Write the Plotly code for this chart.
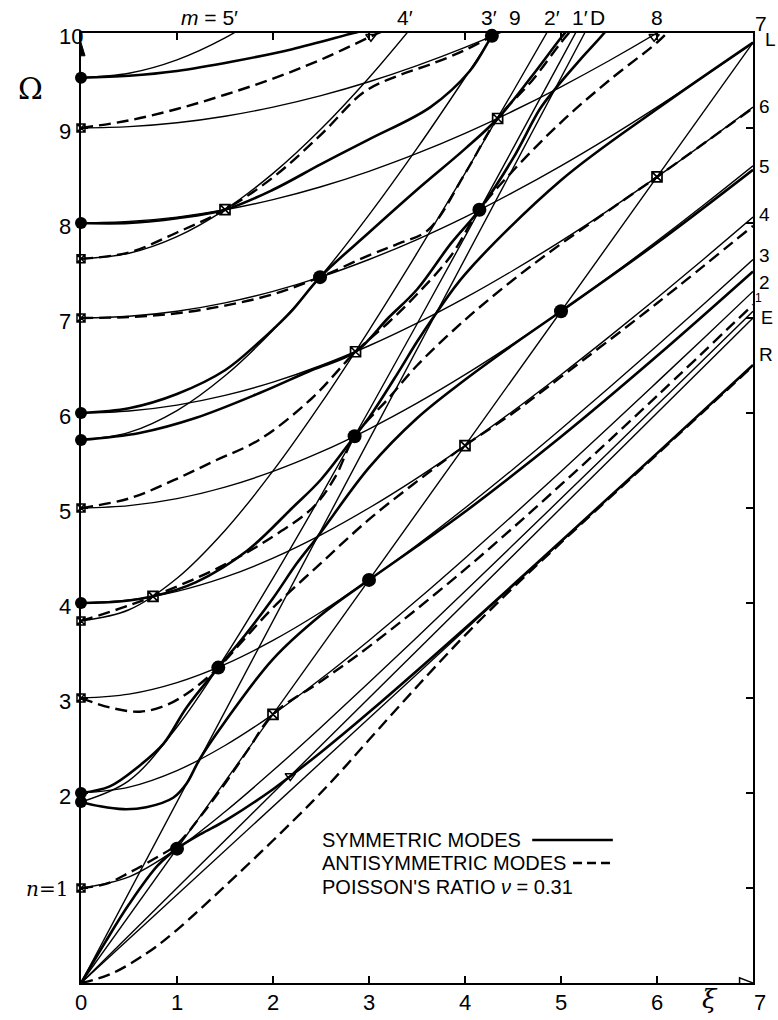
import plotly.graph_objects as go

# ---------------------------------------------------------------
# Frequency spectrum of an infinite plate: frequency Ω against
# wave number ξ, Poisson's ratio 0.31.
# ---------------------------------------------------------------

# bounds Ω² = ξ² + n²  (thin curves, labelled 1 … 9)
xi_h = [0, 0.5, 1, 1.5, 2, 2.5, 3, 3.5, 4, 4.5, 5, 5.5, 6, 6.5, 7]
h1 = [1.0, 1.118, 1.414, 1.803, 2.236, 2.693, 3.162, 3.640, 4.123, 4.610, 5.099, 5.590, 6.083, 6.576, 7.071]
h2 = [2.0, 2.062, 2.236, 2.5, 2.828, 3.202, 3.606, 4.031, 4.472, 4.924, 5.385, 5.852, 6.325, 6.801, 7.280]
h3 = [3.0, 3.041, 3.162, 3.354, 3.606, 3.905, 4.243, 4.610, 5.0, 5.408, 5.831, 6.265, 6.708, 7.159, 7.616]
h4 = [4.0, 4.031, 4.123, 4.272, 4.472, 4.717, 5.0, 5.315, 5.657, 6.021, 6.403, 6.801, 7.211, 7.632, 8.062]
h5 = [5.0, 5.025, 5.099, 5.220, 5.385, 5.590, 5.831, 6.103, 6.403, 6.727, 7.071, 7.433, 7.810, 8.200, 8.602]
h6 = [6.0, 6.021, 6.083, 6.185, 6.325, 6.5, 6.708, 6.946, 7.211, 7.5, 7.810, 8.139, 8.485, 8.846, 9.220]
h7 = [7.0, 7.018, 7.071, 7.159, 7.280, 7.433, 7.616, 7.826, 8.062, 8.322, 8.602, 8.902, 9.220, 9.552, 9.899]
h8 = [8.0, 8.016, 8.062, 8.139, 8.246, 8.382, 8.544, 8.732, 8.944, 9.179, 9.434, 9.708, 10.0, 10.31]
h9 = [9.0, 9.014, 9.055, 9.124, 9.220, 9.341, 9.487, 9.657, 9.849, 10.062, 10.296]

# bounds labelled m = 1' … 5'
m1 = [1.906, 2.131, 2.695, 3.436, 4.261, 5.131, 6.026, 6.937, 7.857, 8.785, 9.717, 10.653]
m2 = [3.811, 3.929, 4.261, 4.764, 5.390, 6.101, 6.871, 7.682, 8.522, 9.384, 10.262]
m3 = [5.717, 5.796, 6.026, 6.392, 6.871, 7.442, 8.085, 8.785, 9.529, 10.307]
m4 = [7.623, 7.682, 7.857, 8.141, 8.522, 8.989, 9.529, 10.129]
m5 = [9.529, 9.576, 9.717, 9.948, 10.262]

# straight lines through the origin: end points
e_x, e_y = [0, 7], [0, 7.0]          # E
l_x, l_y = [0, 7], [0, 9.899]        # L
d_x, d_y = [0, 5.247], [0, 10.0]     # D
r_x, r_y = [0, 7], [0, 6.503]        # R

# symmetric branches (solid)
s0_x = [0, 0.25, 0.5, 0.8, 1.0, 1.25, 1.5, 2.0, 2.5, 3, 4, 5, 6, 7]
s0_y = [0, 0.425, 0.828, 1.237, 1.414, 1.57, 1.707, 2.04, 2.43, 2.85, 3.735, 4.65, 5.575, 6.505]
s1_x = [0, 0.2, 0.44, 0.68, 0.96, 1.1, 1.233, 1.5, 2, 2.5, 3, 3.5, 4, 5, 6, 7]
s1_y = [1.906, 1.86, 1.83, 1.85, 1.95, 2.1, 2.35, 2.75, 3.41, 3.874, 4.243, 4.598, 4.96, 5.75, 6.60, 7.49]
s2_x = [0, 0.3, 0.6, 0.86, 1.1, 1.43, 1.7, 2.0, 2.25, 2.466, 3, 3.5, 4, 4.5, 5, 6, 7]
s2_y = [2.0, 2.07, 2.28, 2.52, 2.9, 3.32, 3.65, 4.05, 4.42, 4.70, 5.425, 5.945, 6.35, 6.718, 7.071, 7.79, 8.56]
s3_x = [0, 0.4, 0.75, 1.2, 1.73, 2.2, 2.5, 2.85, 3.0, 3.3, 3.5, 3.70, 4, 5, 6, 7]
s3_y = [4.0, 4.015, 4.07, 4.22, 4.55, 5.0, 5.3, 5.755, 5.95, 6.42, 6.75, 7.05, 7.46, 8.45, 9.2, 9.899]
s4_x = [0, 0.61, 1.2, 1.86, 2.4, 2.86, 3.2, 3.5, 3.85, 4.15, 4.5, 4.78, 4.93, 5.2, 5.45, 5.6]
s4_y = [5.717, 5.79, 5.95, 6.21, 6.45, 6.645, 7.0, 7.3, 7.78, 8.14, 8.68, 9.2, 9.40, 9.72, 10.0, 10.2]
s5_x = [0, 0.5, 1, 1.5, 1.86, 2.0, 2.2, 2.49, 3, 3.5, 4, 4.34, 4.7, 5.0, 5.1]
s5_y = [6.0, 6.05, 6.2, 6.45, 6.75, 6.88, 7.08, 7.43, 7.9, 8.35, 8.78, 9.10, 9.55, 9.95, 10.07]
s6_x = [0, 0.5, 1, 1.5, 2, 2.5, 3, 3.64, 4.05, 4.28, 4.4]
s6_y = [8.0, 8.0, 8.05, 8.14, 8.35, 8.62, 8.88, 9.22, 9.6, 9.97, 10.15]
s7_x = [0, 0.5, 1, 1.58, 2.2, 2.84, 3.0]
s7_y = [9.529, 9.55, 9.6, 9.7, 9.83, 10.0, 10.04]

# antisymmetric branches (dashed)
a0_x = [0, 0.3, 0.68, 1.0, 1.5, 2.0, 2.42, 2.7, 3.0, 3.5, 4.0, 4.5, 5, 6, 7]
a0_y = [0, 0.09, 0.31, 0.56, 1.02, 1.50, 1.92, 2.22, 2.56, 3.12, 3.66, 4.16, 4.635, 5.565, 6.495]
a1_x = [0, 0.25, 0.5, 0.75, 1, 1.25, 1.5, 1.75, 2, 2.5, 3, 4, 5, 6, 7]
a1_y = [1.0, 1.04, 1.16, 1.3, 1.46, 1.76, 2.1, 2.47, 2.828, 3.177, 3.541, 4.354, 5.245, 6.18, 7.14]
a2_x = [0, 0.3, 0.615, 0.9, 1.15, 1.43, 1.7, 2, 2.5, 3, 3.5, 4, 4.5, 5, 6, 7]
a2_y = [3.0, 2.9, 2.856, 2.93, 3.08, 3.32, 3.62, 3.95, 4.42, 4.88, 5.28, 5.657, 6.0, 6.38, 7.155, 7.97]
a3_x = [0, 0.4, 0.75, 1.45, 2.0, 2.42, 2.65, 2.85, 3.2, 3.5, 4, 4.5, 5, 6, 7]
a3_y = [3.811, 3.94, 4.07, 4.38, 4.7, 5.01, 5.33, 5.755, 6.15, 6.5, 6.98, 7.4, 7.78, 8.485, 9.21]
a4_x = [0, 0.5, 0.96, 1.4, 1.86, 2.4, 2.86, 3.2, 3.5, 3.85, 4.15, 4.5, 5, 5.5, 6, 6.15]
a4_y = [5.0, 5.1, 5.29, 5.5, 5.72, 6.15, 6.645, 6.95, 7.25, 7.65, 8.14, 8.55, 9.06, 9.5, 9.9, 10.05]
a5_x = [0, 0.5, 1, 1.5, 2, 2.49, 3.0, 3.3, 3.62, 4.0, 4.34, 4.7, 5.0, 5.1]
a5_y = [7.0, 7.01, 7.05, 7.13, 7.25, 7.43, 7.66, 7.78, 7.93, 8.52, 9.10, 9.5, 9.9, 10.02]
a6_x = [0, 0.5, 1, 1.5, 2.0, 2.5, 2.95, 3.3, 3.64, 4.0, 4.28, 4.4]
a6_y = [7.623, 7.69, 7.9, 8.14, 8.48, 8.93, 9.38, 9.55, 9.67, 9.82, 9.97, 10.05]
a7_x = [0, 0.5, 1, 1.5, 2, 2.5, 3.1, 3.2]
a7_y = [9.0, 9.08, 9.2, 9.35, 9.52, 9.72, 10.0, 10.04]

# marked points
sym_cut_y = [1.906, 2.0, 4.0, 5.717, 6.0, 8.0, 9.529]
anti_cut_y = [1.0, 3.0, 3.811, 5.0, 7.0, 7.623, 9.0]
sym_pt_x = [1, 3, 5, 1.43, 2.85, 2.49, 4.15, 4.28]
sym_pt_y = [1.414, 4.243, 7.071, 3.32, 5.755, 7.43, 8.14, 9.97]
anti_pt_x = [2, 4, 6, 0.75, 2.86, 1.50, 4.34]
anti_pt_y = [2.828, 5.657, 8.485, 4.07, 6.645, 8.14, 9.10]
tri_x = [2.18, 3.02, 5.97]
tri_y = [2.18, 9.96, 9.96]

# labels
left_vals = [10, 9, 8, 7, 6, 5, 4, 3, 2]
bottom_vals = [0, 1, 2, 3, 4, 5, 6, 7]
top_labels = [("4′", 3.375), ("3′", 4.25), ("9", 4.52), ("2′", 4.91), ("1′", 5.2), ("D", 5.385), ("8", 6.0)]
right_labels = [("6", 9.23), ("5", 8.59), ("4", 8.09), ("3", 7.66), ("2", 7.37)]

XMAX, YMAX = 7.0, 10.0
INK = "black"
FONT = "Liberation Sans, Arial, sans-serif"
SERIF = "DejaVu Serif, serif"

fig = go.Figure()


def thin(x, y):
    fig.add_trace(go.Scatter(x=x, y=y, mode="lines", hoverinfo="skip",
                             line=dict(color=INK, width=1.4, shape="spline", smoothing=1.0)))


def sym(x, y):
    fig.add_trace(go.Scatter(x=x, y=y, mode="lines", hoverinfo="skip",
                             line=dict(color=INK, width=2.6, shape="spline", smoothing=1.0)))


def anti(x, y):
    fig.add_trace(go.Scatter(x=x, y=y, mode="lines", hoverinfo="skip",
                             line=dict(color=INK, width=2.4, dash="12px,6px", shape="spline", smoothing=1.0)))


for hy in [h1, h2, h3, h4, h5, h6, h7, h8, h9]:
    thin(xi_h[:len(hy)], hy)
for my in [m1, m2, m3, m4, m5]:
    thin(xi_h[:len(my)], my)
for lx, ly in [(e_x, e_y), (l_x, l_y), (d_x, d_y), (r_x, r_y)]:
    fig.add_trace(go.Scatter(x=lx, y=ly, mode="lines", hoverinfo="skip",
                             line=dict(color=INK, width=1.4)))

for sx, sy in [(s0_x, s0_y), (s1_x, s1_y), (s2_x, s2_y), (s3_x, s3_y),
               (s4_x, s4_y), (s5_x, s5_y), (s6_x, s6_y), (s7_x, s7_y)]:
    sym(sx, sy)
for ax_, ay_ in [(a0_x, a0_y), (a1_x, a1_y), (a2_x, a2_y), (a3_x, a3_y),
                 (a4_x, a4_y), (a5_x, a5_y), (a6_x, a6_y), (a7_x, a7_y)]:
    anti(ax_, ay_)

# markers
fig.add_trace(go.Scatter(x=[0] * len(sym_cut_y), y=sym_cut_y, mode="markers", cliponaxis=False,
                         hoverinfo="skip", marker=dict(symbol="circle", size=12, color=INK)))
fig.add_trace(go.Scatter(x=sym_pt_x, y=sym_pt_y, mode="markers", cliponaxis=False,
                         hoverinfo="skip", marker=dict(symbol="circle", size=14, color=INK)))
fig.add_trace(go.Scatter(x=[0] * len(anti_cut_y), y=anti_cut_y, mode="markers", cliponaxis=False,
                         hoverinfo="skip",
                         marker=dict(symbol="square-x-open", size=8, color=INK, line=dict(width=1.5, color=INK))))
fig.add_trace(go.Scatter(x=anti_pt_x, y=anti_pt_y, mode="markers", cliponaxis=False,
                         hoverinfo="skip",
                         marker=dict(symbol="square-x-open", size=10, color=INK, line=dict(width=1.7, color=INK))))
fig.add_trace(go.Scatter(x=tri_x, y=tri_y, mode="markers", cliponaxis=False, hoverinfo="skip",
                         marker=dict(symbol="triangle-down-open", size=9, color=INK, line=dict(width=1.5, color=INK))))

ann = []


def label(text, x, y, size=22, xanchor="center", yanchor="middle", family=FONT):
    # positions given in (ξ, Ω) units, placed on the paper so they may sit outside the frame
    ann.append(dict(text=text, x=x / XMAX, y=y / YMAX, xref="paper", yref="paper", showarrow=False,
                    xanchor=xanchor, yanchor=yanchor, font=dict(size=size, color=INK, family=family)))


for v in left_vals:
    label(str(v), -0.255, v - 0.04, xanchor="left")
label("<i>n</i>=1", -0.115, 0.99, size=20, xanchor="right", family=SERIF)
label("Ω", -0.53, 9.42, size=30, family=SERIF)
for v in bottom_vals:
    label(str(v), v + (0.07 if v == 7 else 0), -0.21)
label("<i>ξ</i>", 6.55, -0.17, size=26, family=SERIF)
label("<i>m</i> = 5′", 1.34, 10.16, size=21)
for t, x in top_labels:
    label(t, x, 10.16, size=21)
label("7", 7.0, 10.1, size=21, xanchor="left")
label("L", 7.1, 9.93, size=19, xanchor="left")
for t, y in right_labels:
    label(t, 7.04, y, size=19, xanchor="left")
label("1", 7.0, 7.215, size=12, xanchor="left")
label("E", 7.06, 7.0, size=18, xanchor="left")
label("R", 7.04, 6.62, size=19, xanchor="left")

label("SYMMETRIC MODES", 2.49, 1.505, size=20, xanchor="left")
label("ANTISYMMETRIC MODES", 2.49, 1.263, size=20, xanchor="left")
label("POISSON'S RATIO <i>ν</i> = 0.31", 2.49, 1.01, size=20, xanchor="left")

shapes = [
    # legend samples
    dict(type="line", xref="x", yref="y", x0=4.70, x1=5.54, y0=1.505, y1=1.505,
         line=dict(color=INK, width=2.4)),
    dict(type="line", xref="x", yref="y", x0=5.125, x1=5.54, y0=1.263, y1=1.263,
         line=dict(color=INK, width=2.4, dash="9px,5px")),
    # arrow heads on the axes
    dict(type="path", xref="x", yref="y", path="M 0,9.90 L -0.042,9.76 L 0.042,9.76 Z",
         fillcolor=INK, line=dict(color=INK, width=1)),
    dict(type="path", xref="x", yref="y", path="M 7.0,0 L 6.86,0.055 L 6.86,-0.055 Z",
         fillcolor="white", line=dict(color=INK, width=1.5)),
]

fig.update_layout(
    width=778, height=1020,
    margin=dict(l=81, r=25, t=33, b=37),
    paper_bgcolor="white", plot_bgcolor="white",
    showlegend=False,
    annotations=ann, shapes=shapes,
    xaxis=dict(range=[0, XMAX], showgrid=False, zeroline=False, showline=True, linecolor=INK,
               linewidth=2, mirror="ticks", ticks="inside", ticklen=7, tickwidth=1.5,
               tickcolor=INK, tickvals=[1, 2, 3, 4, 5, 6], showticklabels=False, fixedrange=True),
    yaxis=dict(range=[0, YMAX], showgrid=False, zeroline=False, showline=True, linecolor=INK,
               linewidth=2, mirror="ticks", ticks="inside", ticklen=7, tickwidth=1.5,
               tickcolor=INK, tickvals=[1, 2, 3, 4, 5, 6, 7, 8, 9], showticklabels=False,
               fixedrange=True),
)

fig.write_html("out.html")
